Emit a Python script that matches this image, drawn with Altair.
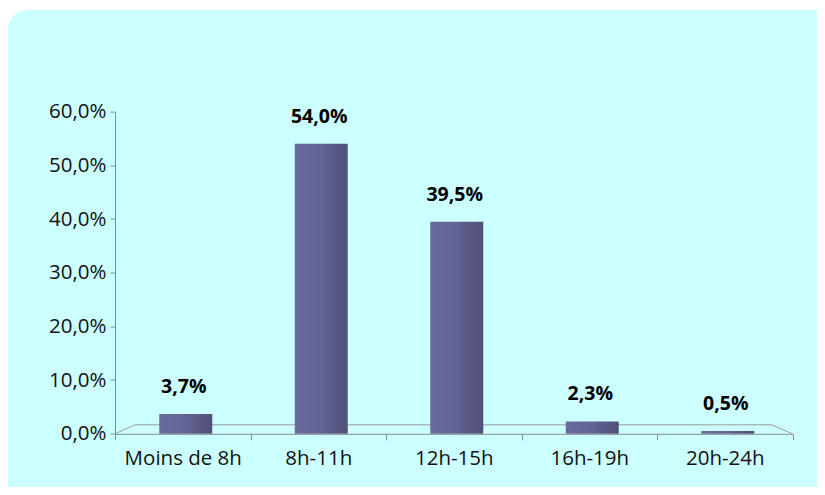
import altair as alt
import pandas as pd

categories = ["Moins de 8h", "8h-11h", "12h-15h", "16h-19h", "20h-24h"]
values = [0.037, 0.540, 0.395, 0.023, 0.005]
y_ticks = [0.0, 0.1, 0.2, 0.3, 0.4, 0.5, 0.6]

df = pd.DataFrame({"cat": categories, "v": values})

W, H = 677.5, 322.2
FONT = "Open Sans"
AXIS_GRAY = "#8a8a8a"

xscale = alt.Scale(domain=categories, paddingInner=0, paddingOuter=0)
yscale = alt.Scale(domain=[0, 0.6], nice=False)

panel = alt.Chart(pd.DataFrame({"a": [0]})).mark_rect(
    color="#CCFFFF", cornerRadius=20
).encode(
    x=alt.value(-107), x2=alt.value(720),
    y=alt.value(-101.6), y2=alt.value(400),
)

floor_back = alt.Chart(pd.DataFrame({"a": [0]})).mark_rule(
    color="#9a9a9a", strokeWidth=1
).encode(x=alt.value(20), x2=alt.value(656.7), y=alt.value(H - 9))
floor_left = alt.Chart(pd.DataFrame({"a": [0]})).mark_rule(
    color="#9a9a9a", strokeWidth=1
).encode(x=alt.value(0), x2=alt.value(20), y=alt.value(H), y2=alt.value(H - 9))
floor_right = alt.Chart(pd.DataFrame({"a": [0]})).mark_rule(
    color="#9a9a9a", strokeWidth=1
).encode(x=alt.value(656.7), x2=alt.value(W), y=alt.value(H - 9), y2=alt.value(H))

base = alt.Chart(df)

bars = base.mark_bar(
    size=53,
    xOffset=3,
    color=alt.Gradient(
        gradient="linear",
        x1=0, x2=1, y1=0, y2=0,
        stops=[
            alt.GradientStop(color="#6a6a9e", offset=0),
            alt.GradientStop(color="#636395", offset=0.5),
            alt.GradientStop(color="#4f4f78", offset=1),
        ],
    ),
).encode(
    x=alt.X(
        "cat:N", scale=xscale, sort=categories, title=None,
        axis=alt.Axis(
            labelAngle=0, tickBand="extent", tickSize=6, tickColor=AXIS_GRAY,
            domainColor=AXIS_GRAY, labelFont=FONT, labelFontSize=20.5,
            labelColor="#111111", labelPadding=9, zindex=2,
        ),
    ),
    y=alt.Y(
        "v:Q", scale=yscale, title=None,
        axis=alt.Axis(
            values=y_ticks, grid=False, tickSize=5, tickColor=AXIS_GRAY,
            domainColor=AXIS_GRAY, labelFont=FONT, labelFontSize=20.5,
            labelColor="#111111", labelPadding=4, zindex=2,
            labelExpr="replace(format(datum.value, '.1%'), '.', ',')",
        ),
    ),
)

labels = base.transform_calculate(
    lab="replace(format(datum.v, '.1%'), '.', ',')"
).mark_text(
    font=FONT, fontSize=19.5, fontWeight="bold", color="#000000",
    baseline="alphabetic", dy=-21, xOffset=1,
).encode(
    x=alt.X("cat:N", scale=xscale, sort=categories),
    y=alt.Y("v:Q", scale=yscale),
    text="lab:N",
)

chart = alt.layer(panel, floor_back, floor_left, floor_right, bars, labels).properties(
    width=W, height=H,
    autosize=alt.AutoSizeParams(type="none"),
    padding={"left": 107, "top": 103.6, "right": 24.5, "bottom": 53.2},
    background="white",
).configure_view(stroke=None)

chart.save("out.html", embed_options={"renderer": "svg", "actions": False})
